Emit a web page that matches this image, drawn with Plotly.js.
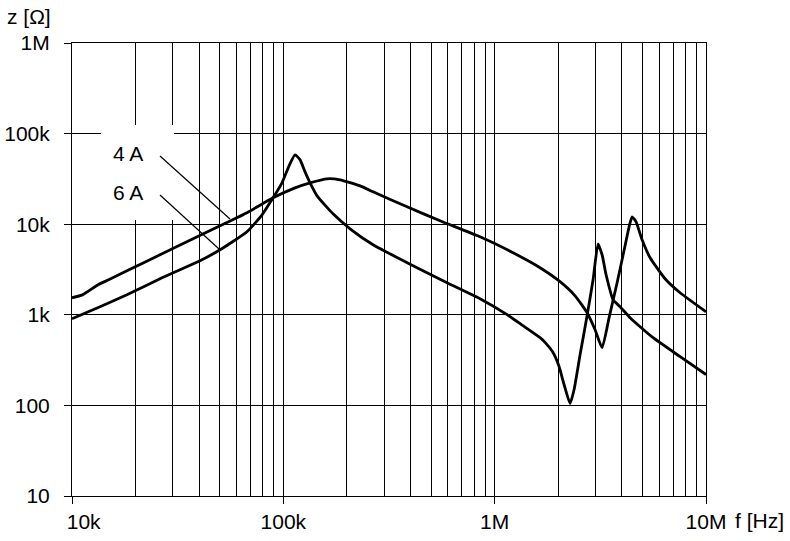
<!DOCTYPE html>
<html>
<head>
<meta charset="utf-8">
<script src="https://cdn.plot.ly/plotly-3.0.1.min.js"></script>
<style>html,body{margin:0;padding:0;background:#fff;}#chart{width:790px;height:541px;}</style>
</head>
<body>
<div id="chart"></div>
<script>
// Frequency (Hz) and impedance (Ohm)
const f4A = [10000, 11200, 13300, 15000, 18200, 26100, 37400, 50200, 67300, 89400, 113600, 133800, 161000, 185500, 230700, 265800, 384900, 551500, 852900, 1222000, 1640000, 2039000, 2402000, 2737000, 2987000, 3223000, 3478000, 3796000, 4140000, 4326000, 4470000, 4669000, 4984000, 5439000, 6403000, 7542000, 10000000];
const z4A = [1540, 1660, 2150, 2450, 3060, 4600, 6900, 9600, 13400, 19550, 25200, 28600, 31700, 30900, 26500, 22800, 15550, 10900, 7260, 4840, 3310, 2320, 1620, 1055, 685, 434, 929, 2260, 5780, 9360, 12070, 10630, 6730, 4260, 2500, 1750, 1080];

const f6A = [10000, 13570, 18200, 26100, 40350, 50200, 67300, 79300, 89400, 98600, 106400, 113600, 120000, 126700, 133800, 144400, 171900, 206900, 265800, 411000, 595300, 852900, 1145000, 1362000, 1640000, 1740000, 1880000, 2010000, 2130000, 2274000, 2375000, 2536000, 2737000, 2922000, 3085000, 3223000, 3367000, 3634000, 3921000, 4374000, 4877000, 5618000, 7542000, 10000000];
const z6A = [906, 1228, 1666, 2500, 3950, 5220, 8250, 12690, 19550, 28600, 44050, 58250, 51300, 37830, 28600, 20560, 13020, 8900, 5930, 3480, 2260, 1505, 1003, 758, 559, 490, 390, 275, 170, 105, 149, 363, 977, 2440, 6080, 4600, 2770, 1467, 1228, 929, 739, 559, 345, 219];

const xTickVals = [1e4, 1e5, 1e6, 1e7];
const xTickText = ["\u00a0\u00a0\u00a0\u00a010k", "100k", "1M", "10M"];
const yTickVals = [10, 100, 1e3, 1e4, 1e5, 1e6];
const yTickText = ["10", "100", "1k", "10k", "100k", "1M"];
const seriesLabels = ["4 A", "6 A"];

const minorX = [];
[1e4, 1e5, 1e6].forEach(d => { for (let m = 2; m <= 9; m++) minorX.push(d * m); });

const FONT = 'Liberation Sans, Arial, Helvetica, sans-serif';
const FS = 21;
const lineStyle = {color: '#000', width: 2.8, shape: 'spline', smoothing: 0.5};

const traces = [
  {x: f4A, y: z4A, mode: 'lines', line: lineStyle, name: seriesLabels[0], hoverinfo: 'skip'},
  {x: f6A, y: z6A, mode: 'lines', line: lineStyle, name: seriesLabels[1], hoverinfo: 'skip'}
];

const layout = {
  width: 790, height: 541,
  margin: {l: 72, r: 84, t: 43, b: 45},
  paper_bgcolor: '#fff', plot_bgcolor: '#fff',
  showlegend: false,
  font: {family: FONT, size: FS, color: '#000'},
  xaxis: {
    type: 'log', range: [4, 7],
    tickvals: xTickVals, ticktext: xTickText,
    ticks: 'outside', ticklen: 7, tickwidth: 1, tickcolor: '#000',
    ticklabelstandoff: 0,
    showgrid: true, gridcolor: '#000', gridwidth: 1,
    showline: true, mirror: true, linecolor: '#000', linewidth: 1,
    zeroline: false,
    minor: {tickvals: minorX, showgrid: true, gridcolor: '#000', gridwidth: 1, ticks: ''},
    tickfont: {family: FONT, size: FS, color: '#000'}
  },
  yaxis: {
    type: 'log', range: [1, 6],
    tickvals: yTickVals, ticktext: yTickText,
    ticks: 'outside', ticklen: 7, tickwidth: 1, tickcolor: '#000',
    ticklabelstandoff: 10,
    showgrid: true, gridcolor: '#000', gridwidth: 1,
    showline: true, mirror: true, linecolor: '#000', linewidth: 1,
    zeroline: false,
    tickfont: {family: FONT, size: FS, color: '#000'}
  },
  shapes: [
    {type: 'rect', xref: 'paper', yref: 'paper', x0: 0.0457, x1: 0.1609, y0: 0.6093, y1: 0.819,
     fillcolor: '#fff', line: {width: 0}, layer: 'above'},
    {type: 'line', xref: 'paper', yref: 'paper', x0: 0.1388, y0: 0.7506, x1: 0.2492, y1: 0.6115,
     line: {color: '#000', width: 1.2}, layer: 'above'},
    {type: 'line', xref: 'paper', yref: 'paper', x0: 0.1388, y0: 0.6645, x1: 0.2319, y1: 0.5453,
     line: {color: '#000', width: 1.2}, layer: 'above'}
  ],
  annotations: [
    {xref: 'paper', yref: 'paper', x: 0.0883, y: 0.755, text: seriesLabels[0], showarrow: false,
     xanchor: 'center', yanchor: 'middle', font: {family: FONT, size: FS, color: '#000'}},
    {xref: 'paper', yref: 'paper', x: 0.0883, y: 0.669, text: seriesLabels[1], showarrow: false,
     xanchor: 'center', yanchor: 'middle', font: {family: FONT, size: FS, color: '#000'}},
    {xref: 'paper', yref: 'paper', x: -0.0300, y: 1.0596, text: 'z [Ω]', showarrow: false,
     xanchor: 'right', yanchor: 'middle', font: {family: FONT, size: FS, color: '#000'}},
    {xref: 'paper', yref: 'paper', x: 1.043, y: -0.053, text: 'f [Hz]', showarrow: false,
     xanchor: 'left', yanchor: 'middle', font: {family: FONT, size: FS, color: '#000'}}
  ]
};

Plotly.newPlot('chart', traces, layout, {staticPlot: true, displayModeBar: false});
</script>
</body>
</html>
